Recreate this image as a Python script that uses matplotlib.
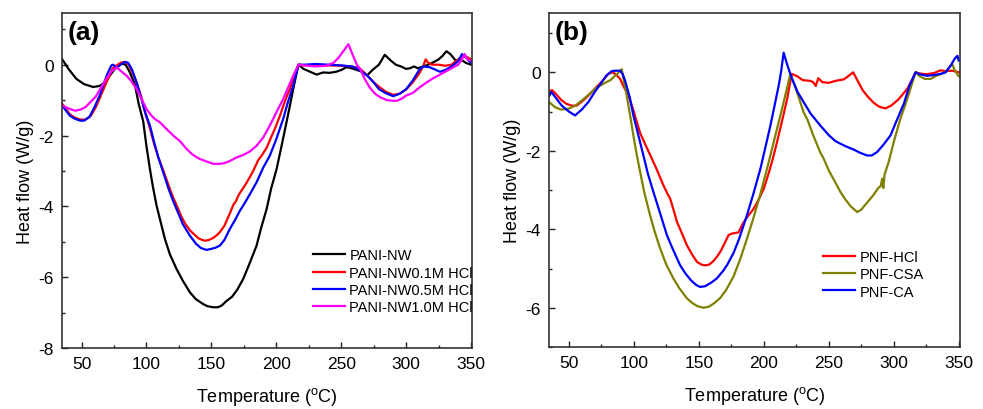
import matplotlib
matplotlib.use("Agg")
import matplotlib.pyplot as plt
from matplotlib.ticker import MultipleLocator

plt.rcParams['font.family'] = ['Liberation Sans', 'DejaVu Sans']
plt.rcParams['mathtext.fontset'] = 'custom'
plt.rcParams['mathtext.rm'] = 'Liberation Sans'
plt.rcParams['axes.unicode_minus'] = False

# ---------------- Panel (a) data ----------------
black_T = [35, 40, 46, 52, 59, 64, 68, 73, 77, 80.5, 84, 87, 91, 94, 97.5, 100, 102.7, 105, 107.8, 111, 114.2, 118,
           123.2, 128, 133.5, 138, 143.7, 147, 151.4, 155, 158, 161.7, 166, 170, 174.5, 179, 184.8, 188, 192.5, 196,
           200.2, 204, 207.8, 210.5, 213, 217, 221, 226, 231, 236, 241, 246, 250, 254, 258, 262, 266, 270, 274, 279,
           283.5, 288, 292, 296, 300, 303, 306, 309, 313, 317, 320, 325, 328, 331, 334, 338, 342, 346, 350]
black_y = [0.16, -0.12, -0.4, -0.55, -0.63, -0.6, -0.5, -0.25, -0.06, 0.03, 0.0, -0.2, -0.55, -1.1, -1.6, -2.3,
           -2.95, -3.45, -3.98, -4.45, -4.92, -5.35, -5.77, -6.1, -6.43, -6.62, -6.76, -6.82, -6.85, -6.85, -6.8,
           -6.67, -6.55, -6.35, -6.05, -5.65, -5.11, -4.65, -4.08, -3.5, -2.95, -2.3, -1.63, -1.15, -0.69, 0.0,
           -0.12, -0.2, -0.28, -0.22, -0.23, -0.2, -0.15, -0.07, -0.1, -0.15, -0.2, -0.3, -0.15, 0.0, 0.28, 0.12,
           0.0, -0.05, -0.12, -0.1, -0.05, -0.1, -0.05, 0.0, 0.05, 0.15, 0.25, 0.38, 0.3, 0.12, 0.15, 0.05, 0.0]

red_a_T = [35, 41, 45, 49, 53, 57, 61, 64, 68, 71, 74, 77, 80, 83.5, 86, 89, 92.4, 96, 99, 102.7, 106, 109, 112.9,
           117, 120, 123.2, 127, 130, 133.5, 137, 140, 143, 145, 148, 151, 154, 156.5, 160, 164.2, 167, 169, 170.7,
           172, 176, 180, 182.2, 186, 189, 192.5, 196, 199, 202.7, 206, 208, 210.4, 213, 217, 222, 230, 240, 250,
           258, 264, 270, 275, 280, 285, 290, 295, 300, 305, 310, 313, 315, 317, 320, 325, 330, 335, 340, 345, 350]
red_a_y = [-1.1, -1.4, -1.5, -1.55, -1.55, -1.45, -1.2, -0.95, -0.6, -0.35, -0.1, -0.02, 0.05, 0.08, 0.02, -0.2,
           -0.5, -0.9, -1.35, -1.8, -2.25, -2.6, -2.98, -3.4, -3.7, -3.97, -4.3, -4.5, -4.68, -4.8, -4.9, -4.95,
           -4.97, -4.95, -4.9, -4.82, -4.73, -4.55, -4.2, -3.95, -3.85, -3.7, -3.62, -3.4, -3.15, -3.0, -2.7, -2.55,
           -2.35, -2.05, -1.8, -1.45, -1.1, -0.9, -0.69, -0.4, 0.0, -0.02, -0.03, -0.02, -0.03, -0.05, -0.1, -0.3,
           -0.5, -0.65, -0.78, -0.85, -0.82, -0.7, -0.5, -0.25, -0.05, 0.15, 0.05, 0.0, 0.0, -0.03, 0.0, 0.15,
           0.25, 0.15]

blue_a_T = [35, 41, 45, 49, 52, 56, 60, 64, 67, 70, 73, 74.5, 77, 80, 83.5, 86, 89, 92.4, 96, 99, 102.7, 106, 109,
            112.9, 117, 120, 123.2, 128, 133.5, 138, 142, 146.3, 150, 153, 156.5, 160, 164.2, 168, 172, 174.5, 179,
            184.8, 190, 195, 200, 205.3, 209, 213, 217, 222, 230, 240, 250, 258, 262, 266, 270, 275, 279, 284, 290,
            295, 300, 305, 310, 313, 318, 323, 326, 330, 335, 340, 343, 346, 350]
blue_a_y = [-1.15, -1.44, -1.53, -1.58, -1.58, -1.48, -1.2, -0.87, -0.55, -0.25, -0.02, 0.0, -0.1, 0.0, 0.08, 0.05,
            -0.15, -0.5, -0.95, -1.35, -1.72, -2.2, -2.6, -3.04, -3.5, -3.8, -4.08, -4.5, -4.83, -5.05, -5.18,
            -5.23, -5.2, -5.17, -5.11, -4.95, -4.64, -4.4, -4.12, -3.98, -3.7, -3.32, -2.9, -2.57, -2.1, -1.53,
            -1.05, -0.59, 0.0, 0.0, 0.02, 0.0, -0.02, -0.05, -0.1, -0.2, -0.31, -0.5, -0.69, -0.8, -0.89, -0.82,
            -0.69, -0.45, -0.15, -0.05, -0.07, -0.15, -0.2, -0.15, -0.05, 0.1, 0.3, 0.2, 0.05]

mag_T = [35, 41, 45, 49, 53, 57, 61, 65, 69, 73, 77, 81, 84.7, 88, 92.4, 96, 100, 103, 106, 110.4, 115, 120, 123.2,
         125.5, 128, 130.9, 135, 138, 141, 146, 151.5, 156.5, 160, 164.2, 169.4, 174.5, 179.6, 184.8, 190, 195, 200,
         205.3, 209, 213, 217, 222, 230, 238, 244, 248, 252, 255.5, 258, 262, 265, 268, 272, 276, 280, 285, 290,
         293, 297, 300, 305, 310, 315, 320, 325, 330, 335, 340, 343, 345, 347, 350]
mag_y = [-1.15, -1.25, -1.3, -1.27, -1.2, -1.05, -0.9, -0.65, -0.4, -0.2, -0.07, -0.2, -0.31, -0.45, -0.69, -0.95,
         -1.25, -1.4, -1.52, -1.63, -1.8, -1.98, -2.08, -2.15, -2.25, -2.38, -2.52, -2.6, -2.66, -2.73, -2.8, -2.8,
         -2.78, -2.72, -2.62, -2.55, -2.45, -2.29, -2.05, -1.72, -1.35, -0.97, -0.65, -0.31, 0.0, -0.02, -0.05,
         -0.03, 0.05, 0.2, 0.4, 0.58, 0.35, 0.0, -0.15, -0.4, -0.65, -0.82, -0.92, -1.0, -1.02, -1.02, -0.95,
         -0.87, -0.8, -0.65, -0.52, -0.4, -0.3, -0.2, -0.1, 0.0, 0.15, 0.3, 0.15, 0.12]

labels_a = ['PANI-NW', 'PANI-NW0.1M HCl', 'PANI-NW0.5M HCl', 'PANI-NW1.0M HCl']
colors_a = ['#000000', '#FF0000', '#0000FF', '#FF00FF']

# ---------------- Panel (b) data ----------------
red_b_T = [35, 37, 40, 44, 48, 52, 56, 60, 65, 70, 75, 80.5, 84, 87, 89.5, 92, 95.9, 100, 104.9, 109, 113.9, 118,
           122.8, 126, 128, 131, 133.2, 137, 140.9, 145, 148.6, 152, 155, 158, 161, 164, 167, 170, 172.9, 175.5,
           180.6, 184, 187, 192.2, 196, 200, 204, 207, 210.2, 214, 218, 221.5, 225.7, 230, 235.9, 238, 240, 242,
           245, 250, 255, 261.6, 265, 268.8, 272, 276, 280, 284.7, 289, 293.7, 298, 302.7, 306, 310.4, 314, 316.8,
           320, 325, 331, 336, 340, 345, 350]
red_b_y = [-0.5, -0.45, -0.55, -0.7, -0.8, -0.85, -0.85, -0.75, -0.6, -0.42, -0.25, -0.04, 0.0, -0.08, -0.17,
           -0.35, -0.59, -1.0, -1.55, -1.85, -2.2, -2.5, -2.88, -3.1, -3.22, -3.55, -3.81, -4.1, -4.41, -4.65,
           -4.83, -4.9, -4.92, -4.9, -4.82, -4.7, -4.55, -4.35, -4.15, -4.11, -4.08, -3.85, -3.7, -3.48, -3.25,
           -2.97, -2.55, -2.2, -1.78, -1.25, -0.68, -0.04, -0.1, -0.2, -0.22, -0.25, -0.35, -0.15, -0.25, -0.27,
           -0.22, -0.18, -0.1, 0.0, -0.2, -0.45, -0.62, -0.78, -0.88, -0.92, -0.85, -0.72, -0.6, -0.42, -0.2, 0.0,
           -0.03, -0.05, -0.02, 0.05, 0.03, 0.04, 0.0]

olive_T = [35, 39.4, 44, 49.6, 55, 60, 65, 70.2, 74, 79, 82, 85.6, 88, 90.8, 92.5, 94.6, 97.2, 99.7, 102, 104.9,
           108, 112.6, 116, 120.3, 125, 130.6, 135, 140.9, 145, 149, 153.7, 158, 162, 166.5, 171, 176.8, 182, 187,
           192.2, 197.4, 202.5, 207.5, 212.8, 216.5, 220.5, 224, 228, 230.7, 233.4, 238, 243.6, 246.1, 250, 255,
           259, 263, 267, 271.9, 275, 278, 282.1, 285, 288, 290, 291.1, 292, 293, 296, 300, 305, 310.4, 314,
           316.8, 320, 324, 328.4, 332, 336, 339.6, 342, 345, 347, 350]
olive_y = [-0.76, -0.89, -0.95, -0.93, -0.85, -0.72, -0.58, -0.42, -0.34, -0.25, -0.2, -0.09, -0.02, 0.08, -0.25,
           -0.6, -1.1, -1.61, -2.05, -2.54, -3.05, -3.65, -4.05, -4.49, -4.9, -5.26, -5.5, -5.76, -5.88, -5.96,
           -6.0, -5.97, -5.88, -5.75, -5.55, -5.2, -4.75, -4.25, -3.7, -3.1, -2.46, -1.8, -1.1, -0.6, -0.04, -0.35,
           -0.75, -1.02, -1.19, -1.6, -2.05, -2.2, -2.5, -2.8, -3.05, -3.25, -3.42, -3.56, -3.5, -3.38, -3.22,
           -3.1, -2.95, -2.9, -2.71, -2.95, -2.6, -2.3, -1.78, -1.2, -0.68, -0.3, 0.0, -0.1, -0.17, -0.17, -0.1,
           -0.05, 0.0, 0.1, 0.21, 0.05, -0.1]

blue_b_T = [35, 36.5, 40, 44.6, 50, 54.8, 60, 65, 70, 75.4, 79, 83, 86, 89.5, 91.5, 93.3, 97, 99.7, 103.5, 107.4,
            111, 115.1, 119, 125.5, 129.3, 132, 135.7, 139.6, 144, 148, 151.1, 155, 160, 164, 169, 172, 176.8, 181,
            187, 192, 197.4, 201, 205.1, 208, 211.5, 213.5, 215.3, 218, 221.8, 226, 230.7, 236, 243.6, 250, 255,
            259, 264, 269.3, 274, 279.6, 283, 287.3, 292, 297.5, 302, 307.8, 312, 316.8, 320, 325.8, 331, 336, 340,
            343.8, 347, 349, 350]
blue_b_y = [-0.6, -0.5, -0.65, -0.85, -1.0, -1.1, -0.95, -0.76, -0.5, -0.25, -0.08, 0.03, 0.04, 0.04, -0.05,
            -0.21, -0.65, -1.1, -1.6, -2.12, -2.6, -3.05, -3.46, -4.15, -4.45, -4.65, -4.92, -5.12, -5.3, -5.42,
            -5.47, -5.45, -5.35, -5.25, -5.05, -4.9, -4.6, -4.25, -3.65, -3.1, -2.46, -1.95, -1.36, -0.9, -0.34,
            0.05, 0.5, 0.2, -0.17, -0.5, -0.76, -1.05, -1.36, -1.6, -1.75, -1.82, -1.9, -1.97, -2.05, -2.12,
            -2.12, -2.03, -1.85, -1.61, -1.25, -0.8, -0.35, 0.0, -0.05, -0.09, -0.07, -0.04, 0.0, 0.17, 0.35, 0.42,
            0.3]

labels_b = ['PNF-HCl', 'PNF-CSA', 'PNF-CA']
colors_b = ['#FF0000', '#808000', '#0000FF']

x_ticks = [50, 100, 150, 200, 250, 300, 350]

fig = plt.figure(figsize=(9.83, 4.10), dpi=100)
ax_a = fig.add_axes([0.0631, 0.1488, 0.4171, 0.8171])
ax_b = fig.add_axes([0.5588, 0.1512, 0.4178, 0.8146])

LW = 1.6


def style(ax, ylim, yticks, xlim):
    ax.set_xlim(*xlim)
    ax.set_ylim(*ylim)
    ax.set_xticks(x_ticks)
    ax.xaxis.set_minor_locator(MultipleLocator(25))
    ax.set_yticks(yticks)
    ax.yaxis.set_minor_locator(MultipleLocator(1))
    ax.tick_params(which='major', direction='in', length=4, width=1.0, labelsize=12.5, colors='#222222',
                   labelcolor='black', pad=6)
    ax.tick_params(which='minor', direction='in', length=2.2, width=1.0, colors='#222222')
    ax.tick_params(top=False, right=False, which='both')
    for s in ax.spines.values():
        s.set_linewidth(1.2)
        s.set_color('#333333')
    ax.set_xlabel(r'Temperature ($\mathregular{^{o}}$C)', fontsize=13, labelpad=10)
    ax.set_ylabel('Heat flow (W/g)', fontsize=13, labelpad=3)


# Panel (a)
series_a = [(black_T, black_y), (red_a_T, red_a_y), (blue_a_T, blue_a_y), (mag_T, mag_y)]
for (t, y), c, lab in zip(series_a, colors_a, labels_a):
    ax_a.plot(t, y, color=c, lw=LW, label=lab)
style(ax_a, (-8, 1.46), [-8, -6, -4, -2, 0], (35, 350.7))
ax_a.text(0.013, 0.98, '(a)', transform=ax_a.transAxes, fontsize=19, fontweight='bold', va='top', ha='left')
ax_a.legend(loc='upper left', bbox_to_anchor=(0.612, 0.297), frameon=False, fontsize=10.5, handlelength=2.2,
            handletextpad=0.3, labelspacing=0.22, borderpad=0, borderaxespad=0)

# Panel (b)
series_b = [(red_b_T, red_b_y), (olive_T, olive_y), (blue_b_T, blue_b_y)]
for (t, y), c, lab in zip(series_b, colors_b, labels_b):
    ax_b.plot(t, y, color=c, lw=LW, label=lab)
style(ax_b, (-7, 1.51), [-6, -4, -2, 0], (35, 351))
ax_b.text(0.013, 0.98, '(b)', transform=ax_b.transAxes, fontsize=19, fontweight='bold', va='top', ha='left')
ax_b.legend(loc='upper left', bbox_to_anchor=(0.666, 0.29), frameon=False, fontsize=10.5, handlelength=2.2,
            handletextpad=0.3, labelspacing=0.22, borderpad=0, borderaxespad=0)

fig.savefig('out.png', dpi=100)
